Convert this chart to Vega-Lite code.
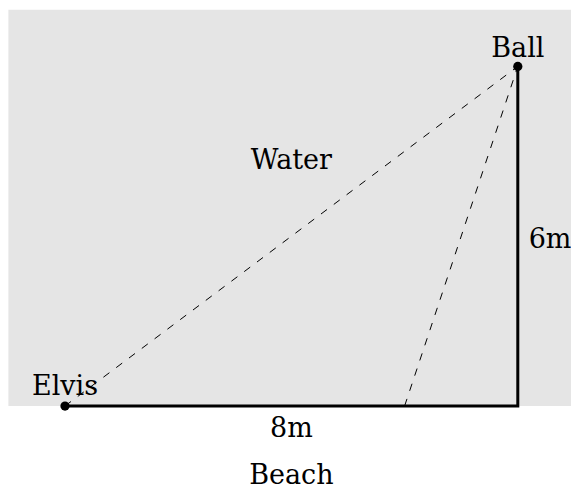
{
  "$schema": "https://vega.github.io/schema/vega-lite/v6.json",
  "width": 571,
  "height": 489,
  "padding": 0,
  "autosize": "none",
  "background": "white",
  "view": {"stroke": null},
  "layer": [
    {
      "data": {"values": [{"x": -1, "x2": 10, "y": 0, "y2": 7}]},
      "mark": {"type": "rect", "color": "#e5e5e5", "clip": true},
      "encoding": {
        "x": {"field": "x", "type": "quantitative", "scale": {"domain": [-1.1484, 8.94], "nice": false, "zero": false}, "axis": null},
        "x2": {"field": "x2"},
        "y": {"field": "y", "type": "quantitative", "scale": {"domain": [-1.466, 7.173], "nice": false, "zero": false}, "axis": null},
        "y2": {"field": "y2"}
      }
    },
    {
      "data": {"values": [{"x": 0, "y": 0, "x2": 8, "y2": 6}, {"x": 6, "y": 0, "x2": 8, "y2": 6}]},
      "mark": {"type": "rule", "color": "black", "strokeWidth": 1, "strokeDash": [7.5, 8.5]},
      "encoding": {
        "x": {"field": "x", "type": "quantitative"},
        "x2": {"field": "x2"},
        "y": {"field": "y", "type": "quantitative"},
        "y2": {"field": "y2"}
      }
    },
    {
      "data": {"values": [{"x": 0, "y": 0, "o": 1}, {"x": 8, "y": 0, "o": 2}, {"x": 8, "y": 6, "o": 3}]},
      "mark": {"type": "line", "color": "black", "strokeWidth": 3, "strokeJoin": "miter"},
      "encoding": {
        "x": {"field": "x", "type": "quantitative"},
        "y": {"field": "y", "type": "quantitative"},
        "order": {"field": "o", "type": "quantitative"}
      }
    },
    {
      "data": {"values": [{"x": 0, "y": 0}, {"x": 8, "y": 6}]},
      "mark": {"type": "point", "filled": true, "shape": "circle", "size": 85, "color": "black", "opacity": 1},
      "encoding": {
        "x": {"field": "x", "type": "quantitative"},
        "y": {"field": "y", "type": "quantitative"}
      }
    },
    {
      "data": {"values": [
        {"label": "Ball", "x": 8, "y": 6.166},
        {"label": "Water", "x": 4, "y": 4.187},
        {"label": "Elvis", "x": 0, "y": 0.194},
        {"label": "8m", "x": 4, "y": -0.548},
        {"label": "Beach", "x": 4, "y": -1.38},
        {"label": "6m", "x": 8.57, "y": 2.79}
      ]},
      "mark": {"type": "text", "baseline": "alphabetic", "align": "center", "font": "DejaVu Serif", "fontSize": 27, "color": "black"},
      "encoding": {
        "x": {"field": "x", "type": "quantitative"},
        "y": {"field": "y", "type": "quantitative"},
        "text": {"field": "label", "type": "nominal"}
      }
    }
  ]
}
